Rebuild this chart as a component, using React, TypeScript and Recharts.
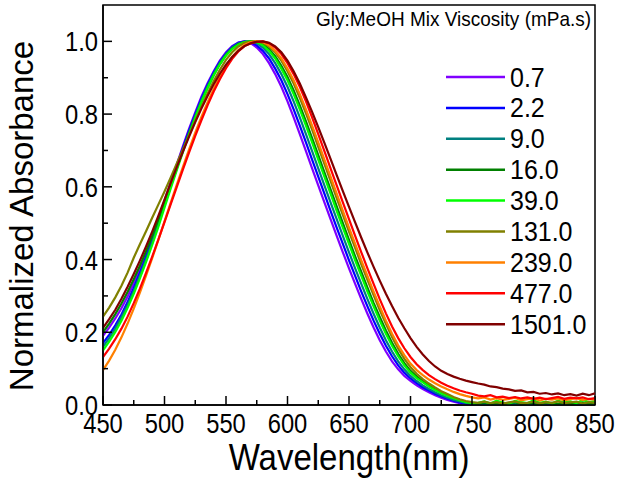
import React from "react";
import { LineChart, Line, XAxis, YAxis, ReferenceArea, Legend } from "recharts";

const FONT = "'Liberation Sans', Arial, sans-serif";

const wavelengths = [
  450, 455, 460, 465, 470, 475, 480, 485, 490, 495,
  500, 505, 510, 515, 520, 525, 530, 535, 540, 545,
  550, 555, 560, 565, 570, 575, 580, 585, 590, 595,
  600, 605, 610, 615, 620, 625, 630, 635, 640, 645,
  650, 655, 660, 665, 670, 675, 680, 685, 690, 695,
  700, 705, 710, 715, 720, 725, 730, 735, 740, 745,
  750, 755, 760, 765, 770, 775, 780, 785, 790, 795,
  800, 805, 810, 815, 820, 825, 830, 835, 840, 845, 850,
];

const v0_7 = [
  0.190, 0.213, 0.238, 0.266, 0.298, 0.335, 0.373, 0.415, 0.460, 0.510,
  0.562, 0.612, 0.662, 0.712, 0.760, 0.805, 0.848, 0.885, 0.918, 0.947,
  0.970, 0.987, 0.997, 1.000, 0.995, 0.983, 0.965, 0.940, 0.910, 0.875,
  0.835, 0.791, 0.745, 0.698, 0.651, 0.604, 0.557, 0.511, 0.465, 0.420,
  0.376, 0.333, 0.291, 0.251, 0.213, 0.178, 0.147, 0.120, 0.098, 0.080,
  0.066, 0.054, 0.044, 0.035, 0.027, 0.020, 0.014, 0.009, 0.005, 0.003,
  0.001, 0.000, 0.003, 0.000, 0.002, 0.000, 0.004, 0.001, 0.000, 0.003,
  0.001, 0.000, 0.004, 0.002, 0.000, 0.003, 0.001, 0.005, 0.002, 0.000, 0.003,
];

const v2_2 = [
  0.170, 0.193, 0.219, 0.249, 0.283, 0.322, 0.363, 0.407, 0.454, 0.504,
  0.556, 0.607, 0.657, 0.707, 0.755, 0.800, 0.843, 0.881, 0.915, 0.944,
  0.967, 0.985, 0.996, 1.000, 0.998, 0.989, 0.974, 0.953, 0.925, 0.893,
  0.855, 0.813, 0.768, 0.722, 0.675, 0.628, 0.581, 0.534, 0.488, 0.443,
  0.398, 0.355, 0.312, 0.271, 0.232, 0.196, 0.163, 0.134, 0.109, 0.089,
  0.073, 0.060, 0.049, 0.040, 0.031, 0.024, 0.017, 0.012, 0.007, 0.004,
  0.002, 0.001, 0.004, 0.002, 0.000, 0.003, 0.005, 0.001, 0.002, 0.004,
  0.000, 0.003, 0.001, 0.004, 0.002, 0.000, 0.005, 0.002, 0.001, 0.003, 0.002,
];

const v9_0 = [
  0.160, 0.184, 0.210, 0.241, 0.275, 0.314, 0.356, 0.400, 0.447, 0.497,
  0.550, 0.601, 0.651, 0.701, 0.749, 0.795, 0.838, 0.877, 0.911, 0.941,
  0.965, 0.983, 0.994, 0.999, 1.000, 0.995, 0.983, 0.965, 0.940, 0.910,
  0.875, 0.835, 0.791, 0.745, 0.698, 0.651, 0.604, 0.557, 0.511, 0.465,
  0.420, 0.376, 0.333, 0.291, 0.251, 0.213, 0.178, 0.147, 0.120, 0.098,
  0.080, 0.066, 0.054, 0.044, 0.035, 0.027, 0.020, 0.014, 0.010, 0.006,
  0.004, 0.003, 0.002, 0.005, 0.001, 0.004, 0.006, 0.002, 0.003, 0.001,
  0.005, 0.002, 0.004, 0.006, 0.001, 0.003, 0.005, 0.002, 0.004, 0.001, 0.003,
];

const v16_0 = [
  0.200, 0.224, 0.250, 0.279, 0.311, 0.346, 0.383, 0.423, 0.465, 0.510,
  0.557, 0.604, 0.652, 0.700, 0.746, 0.791, 0.833, 0.872, 0.907, 0.937,
  0.962, 0.980, 0.992, 0.998, 1.000, 0.999, 0.992, 0.979, 0.959, 0.933,
  0.902, 0.865, 0.824, 0.780, 0.734, 0.687, 0.640, 0.593, 0.546, 0.500,
  0.454, 0.409, 0.366, 0.323, 0.281, 0.242, 0.205, 0.171, 0.141, 0.115,
  0.094, 0.079, 0.066, 0.054, 0.044, 0.034, 0.027, 0.020, 0.014, 0.009,
  0.006, 0.004, 0.007, 0.003, 0.006, 0.002, 0.005, 0.008, 0.003, 0.004,
  0.006, 0.002, 0.007, 0.004, 0.003, 0.006, 0.002, 0.005, 0.007, 0.003, 0.005,
];

const v39_0 = [
  0.150, 0.174, 0.201, 0.232, 0.267, 0.306, 0.348, 0.393, 0.440, 0.490,
  0.543, 0.595, 0.646, 0.696, 0.744, 0.790, 0.833, 0.872, 0.907, 0.937,
  0.961, 0.979, 0.991, 0.998, 1.000, 0.998, 0.989, 0.974, 0.953, 0.925,
  0.893, 0.855, 0.813, 0.768, 0.722, 0.675, 0.628, 0.581, 0.534, 0.488,
  0.443, 0.398, 0.355, 0.312, 0.271, 0.232, 0.196, 0.163, 0.134, 0.109,
  0.089, 0.074, 0.062, 0.051, 0.041, 0.032, 0.025, 0.019, 0.013, 0.008,
  0.005, 0.006, 0.010, 0.004, 0.012, 0.007, 0.003, 0.011, 0.008, 0.005,
  0.013, 0.006, 0.009, 0.004, 0.012, 0.007, 0.010, 0.005, 0.014, 0.008, 0.011,
];

const v131_0 = [
  0.243, 0.268, 0.296, 0.328, 0.364, 0.405, 0.442, 0.478, 0.515, 0.551,
  0.587, 0.625, 0.664, 0.703, 0.742, 0.781, 0.820, 0.857, 0.891, 0.922,
  0.949, 0.970, 0.986, 0.996, 0.999, 1.000, 0.996, 0.986, 0.970, 0.947,
  0.918, 0.884, 0.845, 0.802, 0.757, 0.710, 0.663, 0.616, 0.569, 0.523,
  0.477, 0.432, 0.387, 0.344, 0.302, 0.261, 0.223, 0.187, 0.155, 0.127,
  0.104, 0.086, 0.071, 0.059, 0.048, 0.038, 0.030, 0.022, 0.016, 0.011,
  0.008, 0.006, 0.009, 0.005, 0.008, 0.004, 0.007, 0.010, 0.005, 0.006,
  0.009, 0.004, 0.008, 0.006, 0.010, 0.005, 0.007, 0.009, 0.004, 0.008, 0.006,
];

const v239_0 = [
  0.096, 0.122, 0.152, 0.186, 0.224, 0.265, 0.309, 0.356, 0.404, 0.454,
  0.505, 0.556, 0.606, 0.655, 0.703, 0.749, 0.792, 0.832, 0.869, 0.903,
  0.932, 0.957, 0.976, 0.990, 0.998, 1.000, 0.998, 0.989, 0.974, 0.953,
  0.925, 0.893, 0.855, 0.813, 0.768, 0.722, 0.675, 0.628, 0.581, 0.534,
  0.488, 0.443, 0.398, 0.355, 0.312, 0.271, 0.232, 0.196, 0.164, 0.137,
  0.114, 0.096, 0.082, 0.070, 0.060, 0.051, 0.043, 0.036, 0.030, 0.025,
  0.021, 0.018, 0.021, 0.015, 0.019, 0.014, 0.017, 0.020, 0.013, 0.016,
  0.019, 0.012, 0.017, 0.015, 0.018, 0.013, 0.016, 0.019, 0.014, 0.017, 0.015,
];

const v477_0 = [
  0.132, 0.155, 0.181, 0.210, 0.243, 0.280, 0.320, 0.363, 0.408, 0.455,
  0.503, 0.552, 0.600, 0.648, 0.695, 0.740, 0.783, 0.824, 0.862, 0.896,
  0.926, 0.952, 0.972, 0.987, 0.994, 0.999, 1.000, 0.995, 0.983, 0.965,
  0.940, 0.910, 0.875, 0.835, 0.791, 0.745, 0.698, 0.651, 0.604, 0.557,
  0.511, 0.465, 0.420, 0.376, 0.333, 0.291, 0.252, 0.216, 0.184, 0.156,
  0.132, 0.112, 0.096, 0.082, 0.071, 0.061, 0.053, 0.046, 0.040, 0.035,
  0.031, 0.026, 0.024, 0.027, 0.021, 0.023, 0.019, 0.022, 0.018, 0.021,
  0.017, 0.020, 0.016, 0.019, 0.022, 0.017, 0.020, 0.018, 0.021, 0.016, 0.019,
];

const v1501_0 = [
  0.212, 0.236, 0.262, 0.292, 0.325, 0.360, 0.397, 0.436, 0.477, 0.520,
  0.565, 0.610, 0.654, 0.697, 0.738, 0.778, 0.815, 0.850, 0.882, 0.911,
  0.936, 0.957, 0.974, 0.987, 0.995, 0.999, 1.000, 0.996, 0.986, 0.970,
  0.947, 0.918, 0.884, 0.846, 0.806, 0.764, 0.721, 0.677, 0.632, 0.588,
  0.545, 0.502, 0.460, 0.419, 0.380, 0.342, 0.306, 0.272, 0.240, 0.211,
  0.184, 0.160, 0.139, 0.121, 0.106, 0.094, 0.085, 0.078, 0.072, 0.067,
  0.063, 0.059, 0.056, 0.051, 0.049, 0.045, 0.043, 0.039, 0.040, 0.035,
  0.036, 0.031, 0.033, 0.029, 0.032, 0.027, 0.030, 0.026, 0.031, 0.027, 0.032,
];

const seriesNames = ["0.7", "2.2", "9.0", "16.0", "39.0", "131.0", "239.0", "477.0", "1501.0"];
const seriesValues = [v0_7, v2_2, v9_0, v16_0, v39_0, v131_0, v239_0, v477_0, v1501_0];
const seriesColors = ["#8000FF", "#0000FF", "#008080", "#008000", "#00FF00", "#808000", "#FF8000", "#FF0000", "#800000"];

const xTicks = [450, 475, 500, 525, 550, 575, 600, 625, 650, 675, 700, 725, 750, 775, 800, 825, 850];
const yTicks = [0, 0.1, 0.2, 0.3, 0.4, 0.5, 0.6, 0.7, 0.8, 0.9, 1.0];
const legendTitle = "Gly:MeOH Mix Viscosity (mPa.s)";
const xTitle = "Wavelength(nm)";
const yTitle = "Normalized Absorbance";

const data = wavelengths.map((w, i) => {
  const row: Record<string, number> = { w };
  seriesValues.forEach((vals, k) => {
    row["s" + k] = vals[i];
  });
  return row;
});

const XTick = (props: any) => {
  const { x, y, payload } = props;
  const v = payload.value;
  const major = v % 50 === 0;
  return (
    <g>
      <line x1={x} x2={x} y1={y} y2={y - (major ? 9 : 5)} stroke="#000" strokeWidth={1.5} />
      {major && (
        <text
          transform={`translate(${x},${y + 28}) scale(0.95,1.1)`}
          textAnchor="middle"
          fontSize={25}
          fontFamily={FONT}
          fill="#000"
        >
          {v}
        </text>
      )}
    </g>
  );
};

const YTick = (props: any) => {
  const { x, y, payload } = props;
  const v = payload.value;
  const major = Math.round(v * 10) % 2 === 0;
  return (
    <g>
      <line x1={x} x2={x + (major ? 9 : 5)} y1={y} y2={y} stroke="#000" strokeWidth={1.5} />
      {major && (
        <text
          transform={`translate(${x - 5},${y + 10}) scale(0.95,1.1)`}
          textAnchor="end"
          fontSize={25}
          fontFamily={FONT}
          fill="#000"
        >
          {v.toFixed(1)}
        </text>
      )}
    </g>
  );
};

const LegendBox = () => (
  <svg width={621} height={491} style={{ position: "absolute", left: 0, top: 0 }}>
    <text x={316} y={26} fontSize={19} fontFamily={FONT} fill="#000" transform="translate(0,-2.6) scale(1,1.1)">
      {legendTitle}
    </text>
    {seriesNames.map((n, i) => {
      const cy = 77 + i * 30.9;
      return (
        <g key={n}>
          <line x1={446} x2={505} y1={cy} y2={cy} stroke={seriesColors[i]} strokeWidth={2.5} />
          <text
            transform={`translate(510,${cy + 9.5}) scale(1,1.08)`}
            fontSize={25}
            fontFamily={FONT}
            fill="#000"
          >
            {n}
          </text>
        </g>
      );
    })}
    <text
      transform="translate(33,216) rotate(-90)"
      textAnchor="middle"
      fontSize={33}
      fontFamily={FONT}
      fill="#000"
    >
      {yTitle}
    </text>
    <text
      transform="translate(349,470) scale(1,1.12)"
      textAnchor="middle"
      fontSize={33}
      fontFamily={FONT}
      fill="#000"
    >
      {xTitle}
    </text>
  </svg>
);

export default function App() {
  return (
    <div style={{ position: "absolute", left: 0, top: 0, width: 621, height: 491, background: "#fff" }}>
      <LineChart width={621} height={491} data={data} margin={{ top: 5, right: 26, bottom: 0, left: 0 }}>
        <XAxis
          dataKey="w"
          type="number"
          domain={[450, 850]}
          ticks={xTicks}
          interval={0}
          height={86}
          tickSize={0}
          tickMargin={0}
          tickLine={false}
          tick={<XTick />}
          axisLine={{ stroke: "#000", strokeWidth: 1.5 }}
          allowDataOverflow
        />
        <YAxis
          type="number"
          domain={[0, 1.1]}
          ticks={yTicks}
          interval={0}
          width={103}
          tickSize={0}
          tickMargin={0}
          tickLine={false}
          tick={<YTick />}
          axisLine={{ stroke: "#000", strokeWidth: 1.5 }}
          allowDataOverflow
        />
        <ReferenceArea x1={450} x2={850} y1={0} y2={1.1} fill="none" stroke="#000" strokeWidth={1.5} ifOverflow="visible" />
        {seriesNames.map((n, k) => (
          <Line
            key={n}
            type="linear"
            dataKey={"s" + k}
            name={n}
            stroke={seriesColors[k]}
            strokeWidth={2.2}
            dot={false}
            isAnimationActive={false}
          />
        ))}
        <Legend
          layout="vertical"
          align="center"
          verticalAlign="middle"
          content={<LegendBox />}
          wrapperStyle={{ left: 0, top: 0, width: 621, height: 491, pointerEvents: "none" }}
        />
      </LineChart>
    </div>
  );
}
